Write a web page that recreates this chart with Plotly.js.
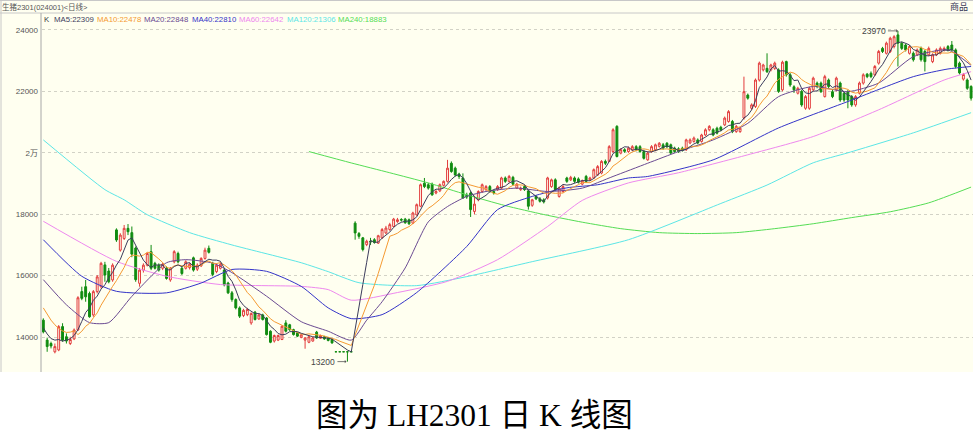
<!DOCTYPE html>
<html><head><meta charset="utf-8">
<script src="https://cdn.plot.ly/plotly-3.0.1.min.js"></script>
<style>html,body{margin:0;padding:0;background:#fff;}#chart{width:973px;height:434px;}</style>
</head><body><div id="chart"></div>
<script>
// ---------- data ----------
const openP = [
14550,13900,13790,13520,13580,14340,14010,13790,13940,14230,
15480,15640,15420,14720,15480,15640,16350,16150,15860,17490,
16830,17210,17540,17400,16900,15750,16180,16340,16780,16400,
16340,16240,16240,15860,16450,16720,16240,16240,16260,16580,
16210,16320,16560,16890,16400,16130,16240,16180,15760,15440,
15220,14950,14700,14730,14460,14810,14590,14720,14620,14190,
13870,13900,13920,14460,14400,14240,14140,13990,13900,13830,
13870,14160,13960,14010,13970,13920,13520,13520,13520,13520,
13520,17710,17370,17230,17010,17120,17170,17060,17230,17390,
17500,17600,17760,17830,17840,17820,17710,17980,18260,19010,
18960,18980,18690,18760,18940,19070,19660,19500,19310,19180,
18620,18690,18090,18470,18740,18800,18900,18740,18800,18850,
19180,19070,19200,18850,18800,18900,18760,18290,18580,18500,
18470,18530,18900,19120,18580,18740,19180,19120,19180,19150,
18980,19230,19120,19180,19280,19340,19720,19720,20040,20860,
19990,20100,20040,20100,20200,20200,20040,19770,20040,20100,
20210,20260,20310,20260,20150,20130,20150,20100,20320,20370,
20420,20370,20580,20750,20750,20800,20830,20910,21020,21020,
20690,20690,21130,21880,21450,21510,22370,22700,22750,22700,
22750,22700,22050,22970,22540,22150,21940,22000,21450,21450,
22050,22270,22270,21830,22370,21990,22050,22270,21940,21990,
21830,21560,21940,22270,22560,22590,22540,22920,23400,23240,
23300,23460,23840,23570,23510,23240,23240,23190,23400,23300,
23190,22970,23190,23240,23350,23460,23510,23350,22920,22400,
22370,22160];
const highP = [
14610,13980,13850,13790,14390,14450,14120,14010,14280,15330,
15640,15860,15480,15530,16020,16450,16450,16250,16400,17540,
17380,17650,17680,17600,16950,16250,16400,16760,17000,16450,
16400,16420,16300,16280,16830,16780,16300,16500,16420,16620,
16400,16600,16910,16980,16450,16400,16420,16230,15800,15500,
15260,15000,14920,14950,14800,14850,14760,14760,14650,14220,
14080,14080,14380,14550,14430,14270,14160,14100,14000,14050,
14000,14200,14080,14040,14000,13950,13520,13520,13520,13520,
13520,17770,17420,17260,17170,17230,17220,17330,17550,17620,
17720,17880,17880,17870,17880,17860,18080,18350,19000,19180,
19020,19030,18800,19000,19100,19770,19720,19550,19350,19330,
18700,18750,18600,18780,19000,18950,18950,18780,18950,19220,
19230,19280,19250,19020,18900,18950,18800,18500,18620,18560,
18520,19220,19160,19170,18900,18950,19220,19250,19230,19200,
19130,19280,19220,19490,19600,19760,19780,20250,20800,20900,
20150,20150,20200,20250,20250,20250,20100,20050,20250,20300,
20350,20320,20350,20300,20200,20180,20200,20460,20470,20530,
20470,20620,20800,20900,20800,20850,20880,21180,21390,21070,
20910,20850,22480,21930,21610,22420,22970,22900,23240,22900,
22970,22750,23000,23000,22600,22200,22150,22050,21880,22150,
22480,22320,22320,22540,22420,22050,22480,22320,21990,22050,
21880,21880,22320,22590,22600,22650,22860,23350,23450,23620,
23780,23830,23970,23620,23560,23510,23300,23400,23460,23350,
23460,23240,23400,23460,23460,23510,23640,23400,22970,22600,
22420,22200];
const lowP = [
14120,13520,13630,13470,13540,13850,13790,13740,13900,14200,
15200,15150,14630,14660,15420,15580,15800,15750,15800,17100,
16780,17160,17320,16600,15800,15640,16100,16300,16180,16200,
16130,16180,15870,15800,16400,16400,16020,16200,16200,16130,
16150,16280,16520,16720,15980,16080,16200,15650,15400,15150,
14900,14620,14650,14680,14400,14540,14560,14540,14050,13800,
13820,13870,13900,14150,14200,14050,14000,13960,13620,13800,
13850,13940,13940,13910,13860,13780,13520,13520,13520,13200,
13520,17170,17200,16790,16960,17000,17040,17030,17200,17350,
17460,17580,17720,17760,17690,17650,17680,17950,18230,18850,
18800,18600,18650,18720,18900,19030,19350,19230,19150,18500,
18500,17910,18000,18420,18700,18760,18700,18640,18760,18820,
19020,19030,18940,18820,18760,18760,18150,18240,18460,18380,
18350,18480,18860,18760,18540,18700,19020,19080,19020,19000,
18940,19020,19080,19150,19250,19300,19600,19700,20000,19850,
19950,20000,20000,20050,20050,20000,19780,19740,20000,20050,
20170,20100,20150,19950,20000,20000,20040,20060,20280,20330,
20280,20330,20540,20700,20540,20600,20700,20870,20980,20640,
20650,20650,21080,21730,21400,21460,22320,22650,22600,22650,
22700,21950,22000,22480,22150,21950,21900,21500,21400,21400,
22000,22100,21950,21800,22100,21780,22000,21660,21660,21450,
21500,21500,21900,22220,22430,22430,22500,22870,23250,23200,
23250,23400,22810,23350,23300,23200,22970,23150,22970,22650,
23150,22920,23150,23200,23300,23300,23300,22750,22550,22350,
22050,21700];
const closeP = [
14170,13690,13710,13690,14340,13900,13870,13920,14230,15280,
15260,15310,14660,15480,15960,16400,16020,15800,16340,17160,
17320,17540,17430,16700,15870,16180,16340,16720,16240,16240,
16180,16370,15910,16240,16780,16450,16070,16450,16370,16180,
16340,16560,16830,16760,16040,16340,16370,15700,15440,15220,
14950,14680,14870,14900,14770,14570,14720,14570,14080,13830,
14050,14050,14350,14190,14240,14080,14030,14070,13970,14010,
13970,13970,14050,13940,13890,13810,13520,13520,13520,13520,
13520,17390,17280,16850,17120,17100,17080,17300,17500,17550,
17660,17840,17820,17810,17720,17690,18040,18310,18960,18900,
18850,18630,18740,18960,19070,19500,19390,19280,19230,18530,
18560,18150,18330,18740,18960,18900,18740,18690,18900,19180,
19070,19230,18980,18980,18850,18800,18260,18470,18500,18420,
18400,19180,19120,18800,18850,18900,19070,19200,19070,19040,
19090,19070,19180,19450,19550,19720,19660,20200,20750,19880,
20100,20050,20150,20200,20100,20040,19820,19990,20200,20260,
20310,20150,20200,19990,20040,20040,20080,20420,20420,20480,
20320,20580,20750,20860,20580,20640,20750,21130,21340,20690,
20860,20800,21990,21780,21560,22370,22920,22860,22640,22860,
22920,22000,22950,22540,22210,22050,22100,21560,21830,22100,
22430,22160,21990,22480,22160,21830,22430,21720,21720,21720,
21560,21830,22270,22540,22480,22480,22810,23300,23300,23570,
23730,23780,23570,23400,23350,23460,23030,23350,23030,22970,
23400,23190,23350,23400,23400,23350,23350,22810,22600,22550,
22100,21780];

// values of the short averages at the first bars (their windows start before the chart)
const ma5Head  = [14300,14100,13950,13900];
const ma10Head = [14950,14750,14550,14400,14280,14200,14150,14160,14200];

// longer averages (bar index, value)
const ma20Idx = [0,6,12,17,23,32,37,44,49,58,67,74,80,84,88,94,100,105,110,115,123,131,140,148,157,165,174,183,191,200,209,217,226,235,241];
const ma20Val = [15870,15050,14470,14470,15325,16420,16520,16410,16100,15330,14500,14190,13900,14550,15150,16250,17750,18250,18580,18740,18850,18740,18850,19230,19660,20040,20420,20960,21830,22160,21990,22270,23130,23350,22848];
const ma40Idx = [0,10,19,32,41,49,58,67,74,80,88,97,110,118,127,136,144,152,157,174,191,209,226,235,241];
const ma40Val = [17170,15980,15490,15440,15760,16200,16140,15650,14950,14600,14730,15450,16950,18150,18580,18860,18960,19180,19230,19770,20810,21670,22480,22730,22810];
const ma60Idx = [0,19,32,46,67,74,80,92,105,118,131,140,152,165,183,200,217,234,241];
const ma60Val = [17770,16465,15980,15710,15650,15545,15200,15450,15815,16520,17600,18450,19020,19350,19935,20530,21400,22370,22642];
const ma120Idx = [0,16,21,27,38,49,67,74,82,97,110,127,152,176,188,200,209,226,241];
const ma120Val = [20420,18800,18470,17984,17400,17000,16420,16130,15770,15675,15968,16455,17170,18350,18950,19675,20000,20650,21306];
const ma240Idx = [69,80,90,100,110,120,130,140,150,160,170,180,190,200,210,220,230,241];
const ma240Val = [20040,19670,19350,19020,18634,18280,17990,17740,17530,17400,17370,17400,17530,17690,17890,18080,18370,18883];

const yTickVals = [14000,16000,18000,20000,22000,24000];
const yTickText = ['14000','16000','18000','2万','22000','24000'];
const legendLabels = ['K','MA5:22309','MA10:22478','MA20:22848','MA40:22810','MA60:22642','MA120:21306','MA240:18883'];
const headerText = '生猪2301(024001)<日线>';
const cornerText = '商品';
const captionText = '图为 LH2301 日 K 线图';
const maxLabel = 23970, minLabel = 13200;

// ---------- styling ----------
const W = 973, H = 434, ML = 42, MR = 0, MT = 14, MB = 62;
const PW = W - ML - MR, PH = H - MT - MB;
const px = x => (x - ML) / PW;
const py = y => (H - MB - y) / PH;
const BG = '#fffff0';
const C = {k:'#404040', ma5:'#3c3c5c', ma10:'#f59a32', ma20:'#6a4a92', ma40:'#3434c8', ma60:'#ee88ee', ma120:'#5ce6e6', ma240:'#55dd55'};
const legendColors = [C.k, C.ma5, C.ma10, C.ma20, C.ma40, C.ma60, C.ma120, C.ma240];
const legendX = [42.7, 52.7, 96, 143.3, 190.7, 238.3, 285.7, 336.7];
const smallFont = 'Liberation Sans, Arial, Noto Sans CJK SC';

const idx = closeP.map((_, i) => i);
function movingAvg(vals, n, head) {
  return vals.map((v, i) => {
    if (i < n - 1) return head[i];
    let s = 0; for (let k = i - n + 1; k <= i; k++) s += vals[k];
    return s / n;
  });
}
const ma5 = movingAvg(closeP, 5, ma5Head);
const ma10 = movingAvg(closeP, 10, ma10Head);

const lineTrace = (x, y, color, shape) => ({type:'scatter', mode:'lines', x, y, hoverinfo:'skip',
  line:{color, width:1, shape: shape || 'linear', smoothing: 0.6}});

const data = [
  {type:'candlestick', x: idx, open: openP, high: highP, low: lowP, close: closeP,
   increasing:{line:{color:'#e23c3c', width:1}, fillcolor: BG},
   decreasing:{line:{color:'#108c10', width:1}, fillcolor:'#108c10'},
   whiskerwidth: 0, hoverinfo:'skip'},
  lineTrace(ma240Idx, ma240Val, C.ma240, 'spline'),
  lineTrace(ma120Idx, ma120Val, C.ma120, 'spline'),
  lineTrace(ma60Idx, ma60Val, C.ma60, 'spline'),
  lineTrace(ma40Idx, ma40Val, C.ma40, 'spline'),
  lineTrace(ma20Idx, ma20Val, C.ma20, 'spline'),
  lineTrace(idx, ma10, C.ma10),
  lineTrace(idx, ma5, C.ma5)
];

const annotations = [];
legendLabels.forEach((t, i) => annotations.push({xref:'paper', yref:'paper', x: px(legendX[i]), y: py(19),
  xanchor:'left', yanchor:'middle', borderpad:0, text: t, showarrow:false, font:{family: smallFont, size: 7.8, color: legendColors[i]}}));
annotations.push({xref:'paper', yref:'paper', x: px(1), y: py(6.5), xanchor:'left', yanchor:'middle', borderpad:0,
  text: headerText, showarrow:false, font:{family: smallFont, size: 7.5, color:'#555'}});
annotations.push({xref:'paper', yref:'paper', x: px(970), y: py(6.5), xanchor:'right', yanchor:'middle',
  text: cornerText, showarrow:false, font:{family: 'Noto Sans CJK SC', size: 9, color:'#335'}});
annotations.push({xref:'x', yref:'y', x: highP.indexOf(maxLabel), y: maxLabel, text: String(maxLabel),
  showarrow:true, ax:-10, ay:0, xanchor:'right', arrowhead:1, arrowsize:0.7, arrowwidth:0.8, arrowcolor:'#555',
  font:{family: smallFont, size: 8.5, color:'#444'}});
annotations.push({xref:'x', yref:'y', x: lowP.indexOf(minLabel), y: minLabel, text: String(minLabel),
  showarrow:true, ax:-10, ay:0, standoff:1, xanchor:'right', arrowhead:1, arrowsize:0.7, arrowwidth:0.8, arrowcolor:'#555',
  font:{family: smallFont, size: 8.5, color:'#444'}});
annotations.push({xref:'paper', yref:'paper', x: px(474.5), y: py(415), xanchor:'center', yanchor:'middle',
  text: captionText, showarrow:false, font:{family:'Liberation Serif, Noto Sans CJK SC', size: 31.5, color:'#000'}});

const shapes = [
  {type:'rect', xref:'paper', yref:'paper', x0: px(0), x1: px(W), y0: py(372), y1: py(0), fillcolor: BG, line:{width:0}, layer:'below'},
  {type:'line', xref:'paper', yref:'paper', x0: px(0), x1: px(W), y0: py(0.5), y1: py(0.5), line:{color:'#c8c8c8', width:1}},
  {type:'line', xref:'paper', yref:'paper', x0: px(0), x1: px(W), y0: py(13), y1: py(13), line:{color:'#c8c8c8', width:1}},
  {type:'line', xref:'paper', yref:'paper', x0: px(1), x1: px(1), y0: py(0), y1: py(372), line:{color:'#c8c8c8', width:1}},
  {type:'line', xref:'paper', yref:'paper', x0: px(41), x1: px(41), y0: py(13), y1: py(372), line:{color:'#a8a8a8', width:1}}
];

const layout = {
  width: W, height: H, margin:{l: ML, r: MR, t: MT, b: MB, pad:0},
  paper_bgcolor:'#ffffff', plot_bgcolor: BG, showlegend:false,
  boxgap: 0.3, boxgroupgap: 0.3,
  xaxis:{range:[-0.34, 241.5], showticklabels:false, showgrid:false, zeroline:false, showline:false, ticks:'',
         rangeslider:{visible:false}, fixedrange:true},
  yaxis:{range:[12862, 24520], tickvals: yTickVals, ticktext: yTickText, ticks:'', ticklabelstandoff: 3,
         showgrid:true, gridcolor:'#d2d2c6', griddash:'3px,3px', gridwidth:1, zeroline:false, showline:false,
         tickfont:{family: smallFont, size: 8, color:'#555'}, fixedrange:true},
  annotations, shapes, hovermode:false
};

Plotly.newPlot('chart', data, layout, {displayModeBar:false, staticPlot:true});
</script>
</body></html>
